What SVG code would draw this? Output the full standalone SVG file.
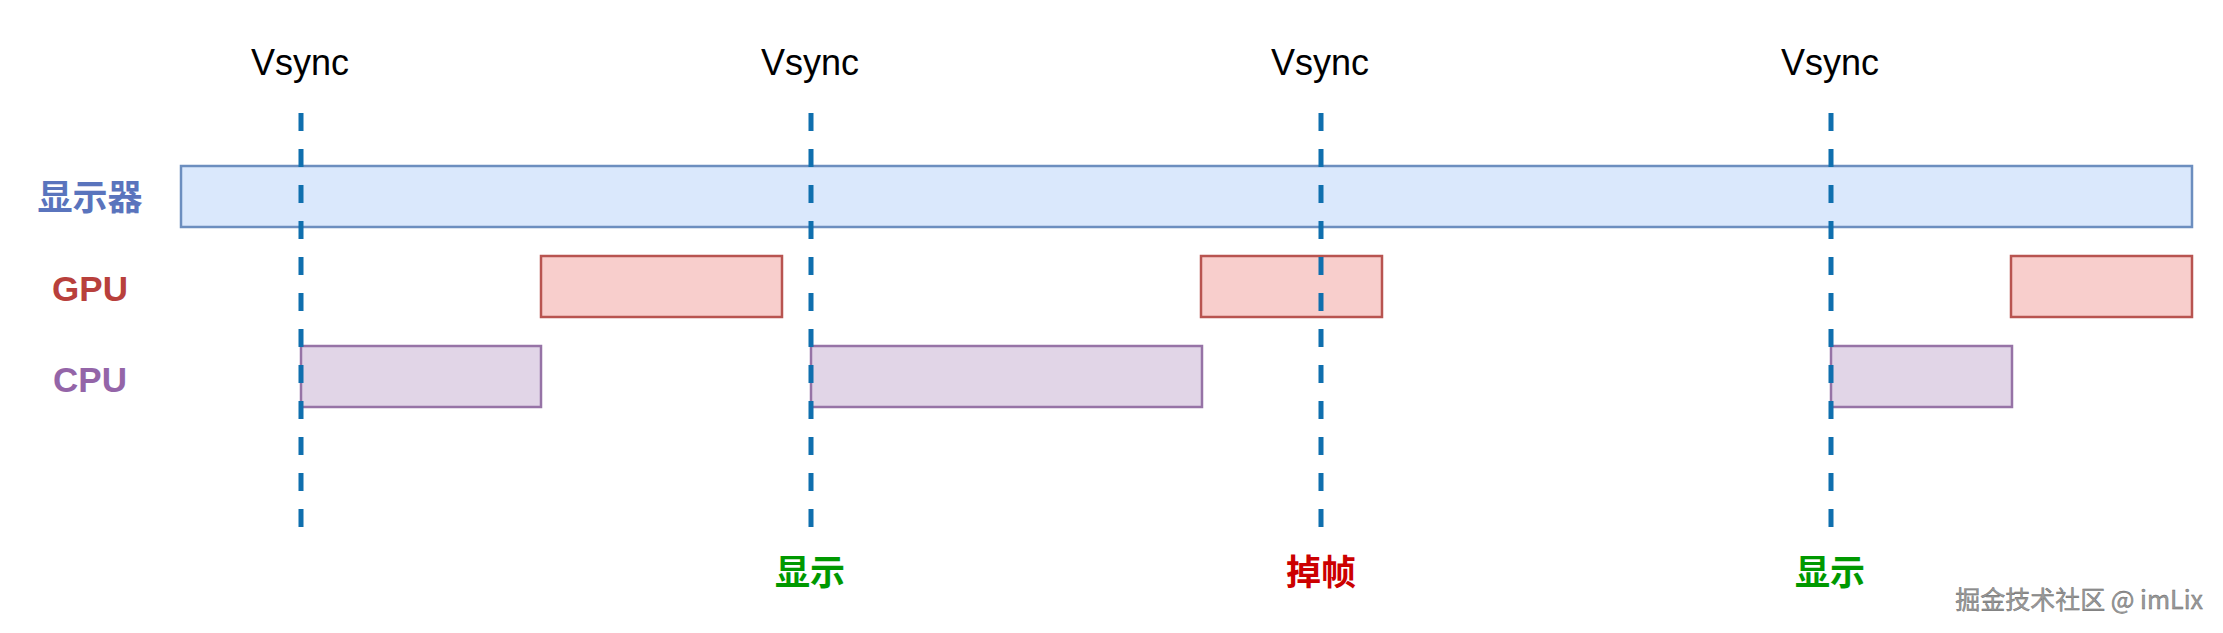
<svg xmlns="http://www.w3.org/2000/svg" width="2223" height="633" viewBox="0 0 2223 633">
<style>
.vs{font-family:"Liberation Sans",Arial,sans-serif;font-size:36px;fill:#000;text-anchor:middle}
.lbl{font-family:"Liberation Sans","Noto Sans CJK SC",sans-serif;font-weight:bold;text-anchor:middle}
.disp{fill:#dae8fc;stroke:#6c8ebf;stroke-width:2.5}
.gpu{fill:#f8cecc;stroke:#b85450;stroke-width:2.5}
.cpu{fill:#e1d5e7;stroke:#9673a6;stroke-width:2.5}
.vline{stroke:#0f6fae;stroke-width:5;stroke-dasharray:18 18;fill:none}
.wm{font-family:"Noto Sans CJK SC","Liberation Sans",sans-serif;font-size:25px;fill:#9a9a9a;stroke:#666;stroke-width:0.4;text-anchor:end}
</style>
<rect width="2223" height="633" fill="#fff"/>
<g id="labels-left">
<text class="lbl" x="90" y="210" font-size="35" fill="#5a74bd">显示器</text>
<text class="lbl" x="90" y="301" font-size="35" fill="#b8403c">GPU</text>
<text class="lbl" x="90" y="392" font-size="35" fill="#9465a8">CPU</text>
</g>
<g id="display">
<rect class="disp" x="181" y="166" width="2011" height="61"/>
</g>
<g id="gpu1"><rect class="gpu" x="541" y="256" width="241" height="61"/></g>
<g id="gpu2"><rect class="gpu" x="1201" y="256" width="181" height="61"/></g>
<g id="gpu3"><rect class="gpu" x="2011" y="256" width="181" height="61"/></g>
<g id="cpu1"><rect class="cpu" x="301" y="346" width="240" height="61"/></g>
<g id="cpu2"><rect class="cpu" x="811" y="346" width="391" height="61"/></g>
<g id="cpu3"><rect class="cpu" x="1831" y="346" width="181" height="61"/></g>
<g id="connectors">
<line class="vline" x1="301" y1="113" x2="301" y2="527"/>
<line class="vline" x1="811" y1="113" x2="811" y2="527"/>
<line class="vline" x1="1321" y1="113" x2="1321" y2="527"/>
<line class="vline" x1="1831" y1="113" x2="1831" y2="527"/>
</g>
<g id="vsync-labels">
<text class="vs" x="300" y="75">Vsync</text>
<text class="vs" x="810" y="75">Vsync</text>
<text class="vs" x="1320" y="75">Vsync</text>
<text class="vs" x="1830" y="75">Vsync</text>
</g>
<g id="bottom-labels">
<text class="lbl" x="810" y="585" font-size="35" fill="#009900">显示</text>
<text class="lbl" x="1321" y="585" font-size="35" fill="#cc0000">掉帧</text>
<text class="lbl" x="1830" y="585" font-size="35" fill="#009900">显示</text>
</g>
<text class="wm" x="2203" y="609">掘金技术社区 @ imLix</text>
</svg>
